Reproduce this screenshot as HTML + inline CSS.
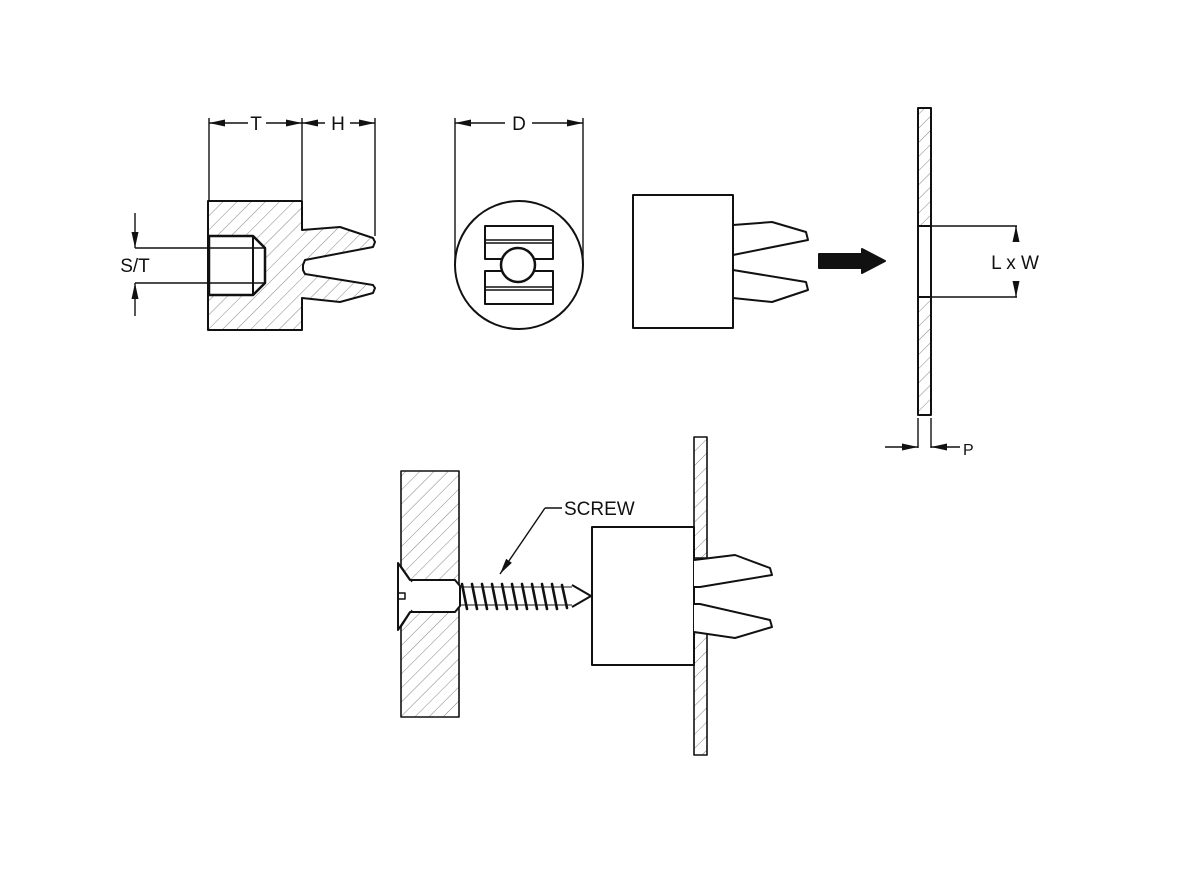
<!DOCTYPE html>
<html><head><meta charset="utf-8"><style>
html,body{margin:0;padding:0;background:#fff;}
svg{display:block;}
text{font-family:"Liberation Sans",sans-serif;font-size:19px;fill:#111;}
</style></head><body>
<svg width="1200" height="880" viewBox="0 0 1200 880" xmlns="http://www.w3.org/2000/svg">
<defs>
<pattern id="h" patternUnits="userSpaceOnUse" width="10" height="10" patternTransform="rotate(45)">
<line x1="0" y1="0" x2="0" y2="10" stroke="#666" stroke-width="0.8"/>
</pattern>
<marker id="b" viewBox="0 0 16 7" refX="16" refY="3.5" markerWidth="16" markerHeight="7" orient="auto" markerUnits="userSpaceOnUse"><path d="M0,0L16,3.5L0,7z" fill="#111"/></marker>
</defs>
<g stroke="#111" stroke-width="2" fill="none" stroke-linejoin="round">

<!-- Part 1 section -->
<path d="M208,201H302V230L340,227L373,238L375,242L373,247L305,260L303,265L303,270L305,274L373,285L375,288L373,293L340,302L302,298V330H208Z" fill="url(#h)"/>
<path d="M209,236H253L265,248V283L253,295H209Z" fill="#fff" stroke-width="2.5"/>
<line x1="253" y1="236" x2="253" y2="295"/>
<g stroke-width="1.4">
<line x1="209" y1="200" x2="209" y2="118"/>
<line x1="302" y1="200" x2="302" y2="118"/>
<line x1="375" y1="236" x2="375" y2="118"/>
<line x1="248" y1="123" x2="209" y2="123" marker-end="url(#b)"/>
<line x1="266" y1="123" x2="302" y2="123" marker-end="url(#b)"/>
<line x1="325" y1="123" x2="302" y2="123" marker-end="url(#b)"/>
<line x1="350" y1="123" x2="375" y2="123" marker-end="url(#b)"/>
<line x1="135" y1="248" x2="265" y2="248"/>
<line x1="135" y1="283" x2="265" y2="283"/>
<line x1="135" y1="213" x2="135" y2="248" marker-end="url(#b)"/>
<line x1="135" y1="316" x2="135" y2="283" marker-end="url(#b)"/>
</g>

<!-- Part 2 end view -->
<circle cx="519" cy="265" r="64"/>
<g stroke-width="1.4">
<line x1="455" y1="265" x2="455" y2="118"/>
<line x1="583" y1="265" x2="583" y2="118"/>
<line x1="505" y1="123" x2="455" y2="123" marker-end="url(#b)"/>
<line x1="532" y1="123" x2="583" y2="123" marker-end="url(#b)"/>
</g>
<rect x="485" y="226" width="68" height="33"/>
<rect x="485" y="271" width="68" height="33"/>
<line x1="485" y1="240" x2="553" y2="240" stroke-width="1.5"/>
<line x1="485" y1="243" x2="553" y2="243" stroke-width="1.5"/>
<line x1="485" y1="287" x2="553" y2="287" stroke-width="1.5"/>
<line x1="485" y1="290" x2="553" y2="290" stroke-width="1.5"/>
<circle cx="518" cy="265" r="17" fill="#fff" stroke-width="2.5"/>

<!-- Part 3 side view -->
<rect x="633" y="195" width="100" height="133"/>
<path d="M733,225L772,222L806,232L808,240L733,255"/>
<path d="M733,270L806,282L808,290L772,302L733,298"/>
<path d="M819,254H862V249L885,261L862,273V268H819Z" fill="#111"/>

<!-- Part 4 panel -->
<rect x="918" y="108" width="13" height="118" fill="url(#h)"/>
<rect x="918" y="226" width="13" height="71" fill="#fff"/>
<rect x="918" y="297" width="13" height="118" fill="url(#h)"/>
<g stroke-width="1.4">
<line x1="931" y1="226" x2="1017" y2="226"/>
<line x1="931" y1="297" x2="1017" y2="297"/>
<line x1="1016" y1="242" x2="1016" y2="226" marker-end="url(#b)"/>
<line x1="1016" y1="281" x2="1016" y2="297" marker-end="url(#b)"/>
<line x1="918" y1="418" x2="918" y2="448"/>
<line x1="931" y1="418" x2="931" y2="448"/>
<line x1="885" y1="447" x2="918" y2="447" marker-end="url(#b)"/>
<line x1="960" y1="447" x2="931" y2="447" marker-end="url(#b)"/>
</g>

<!-- Bottom assembly -->
<rect x="401" y="471" width="58" height="246" fill="url(#h)" stroke-width="1.6"/>
<rect x="694" y="437" width="13" height="121" fill="url(#h)" stroke-width="1.6"/>
<rect x="694" y="632" width="13" height="123" fill="url(#h)" stroke-width="1.6"/>
<rect x="592" y="527" width="102" height="138" fill="#fff"/>
<path d="M694,560L735,555L770,568L772,575L700,587L694,587" fill="#fff"/>
<path d="M694,604L700,604L770,620L772,627L735,638L694,632" fill="#fff"/>
<!-- screw -->
<path d="M398,563L410,580H455L460,586V606L455,612H410L398,630Z" fill="#fff"/>
<path d="M401,566L412,582M401,627L412,610" stroke-width="1.2"/>
<path d="M398,593H405V599H398" stroke-width="1.5"/>
<path d="M572,585L591,596L572,607" fill="#fff"/>
<g stroke-width="2.6" stroke-linecap="round">
<path d="M462,584L467,609M472,584L477,609M482,584L487,609M492,584L497,609M502,584L507,609M512,584L517,609M522,584L527,609M532,584L537,609M542,584L547,609M552,584L557,609M562,585L567,608"/>
</g>
<path d="M460,587H572M460,605H572" stroke-width="1"/>
<line x1="545" y1="508" x2="562" y2="508" stroke-width="1.4"/>
<line x1="545" y1="508" x2="500" y2="574" stroke-width="1.4" marker-end="url(#b)"/>
</g>

<text x="256" y="130" text-anchor="middle">T</text>
<text x="338" y="130" text-anchor="middle">H</text>
<text x="519" y="130" text-anchor="middle">D</text>
<text x="135" y="272" text-anchor="middle">S/T</text>
<text x="1015" y="269" text-anchor="middle">L x W</text>
<text x="963" y="455" style="font-size:16px">P</text>
<text x="564" y="515">SCREW</text>
</svg>
</body></html>
